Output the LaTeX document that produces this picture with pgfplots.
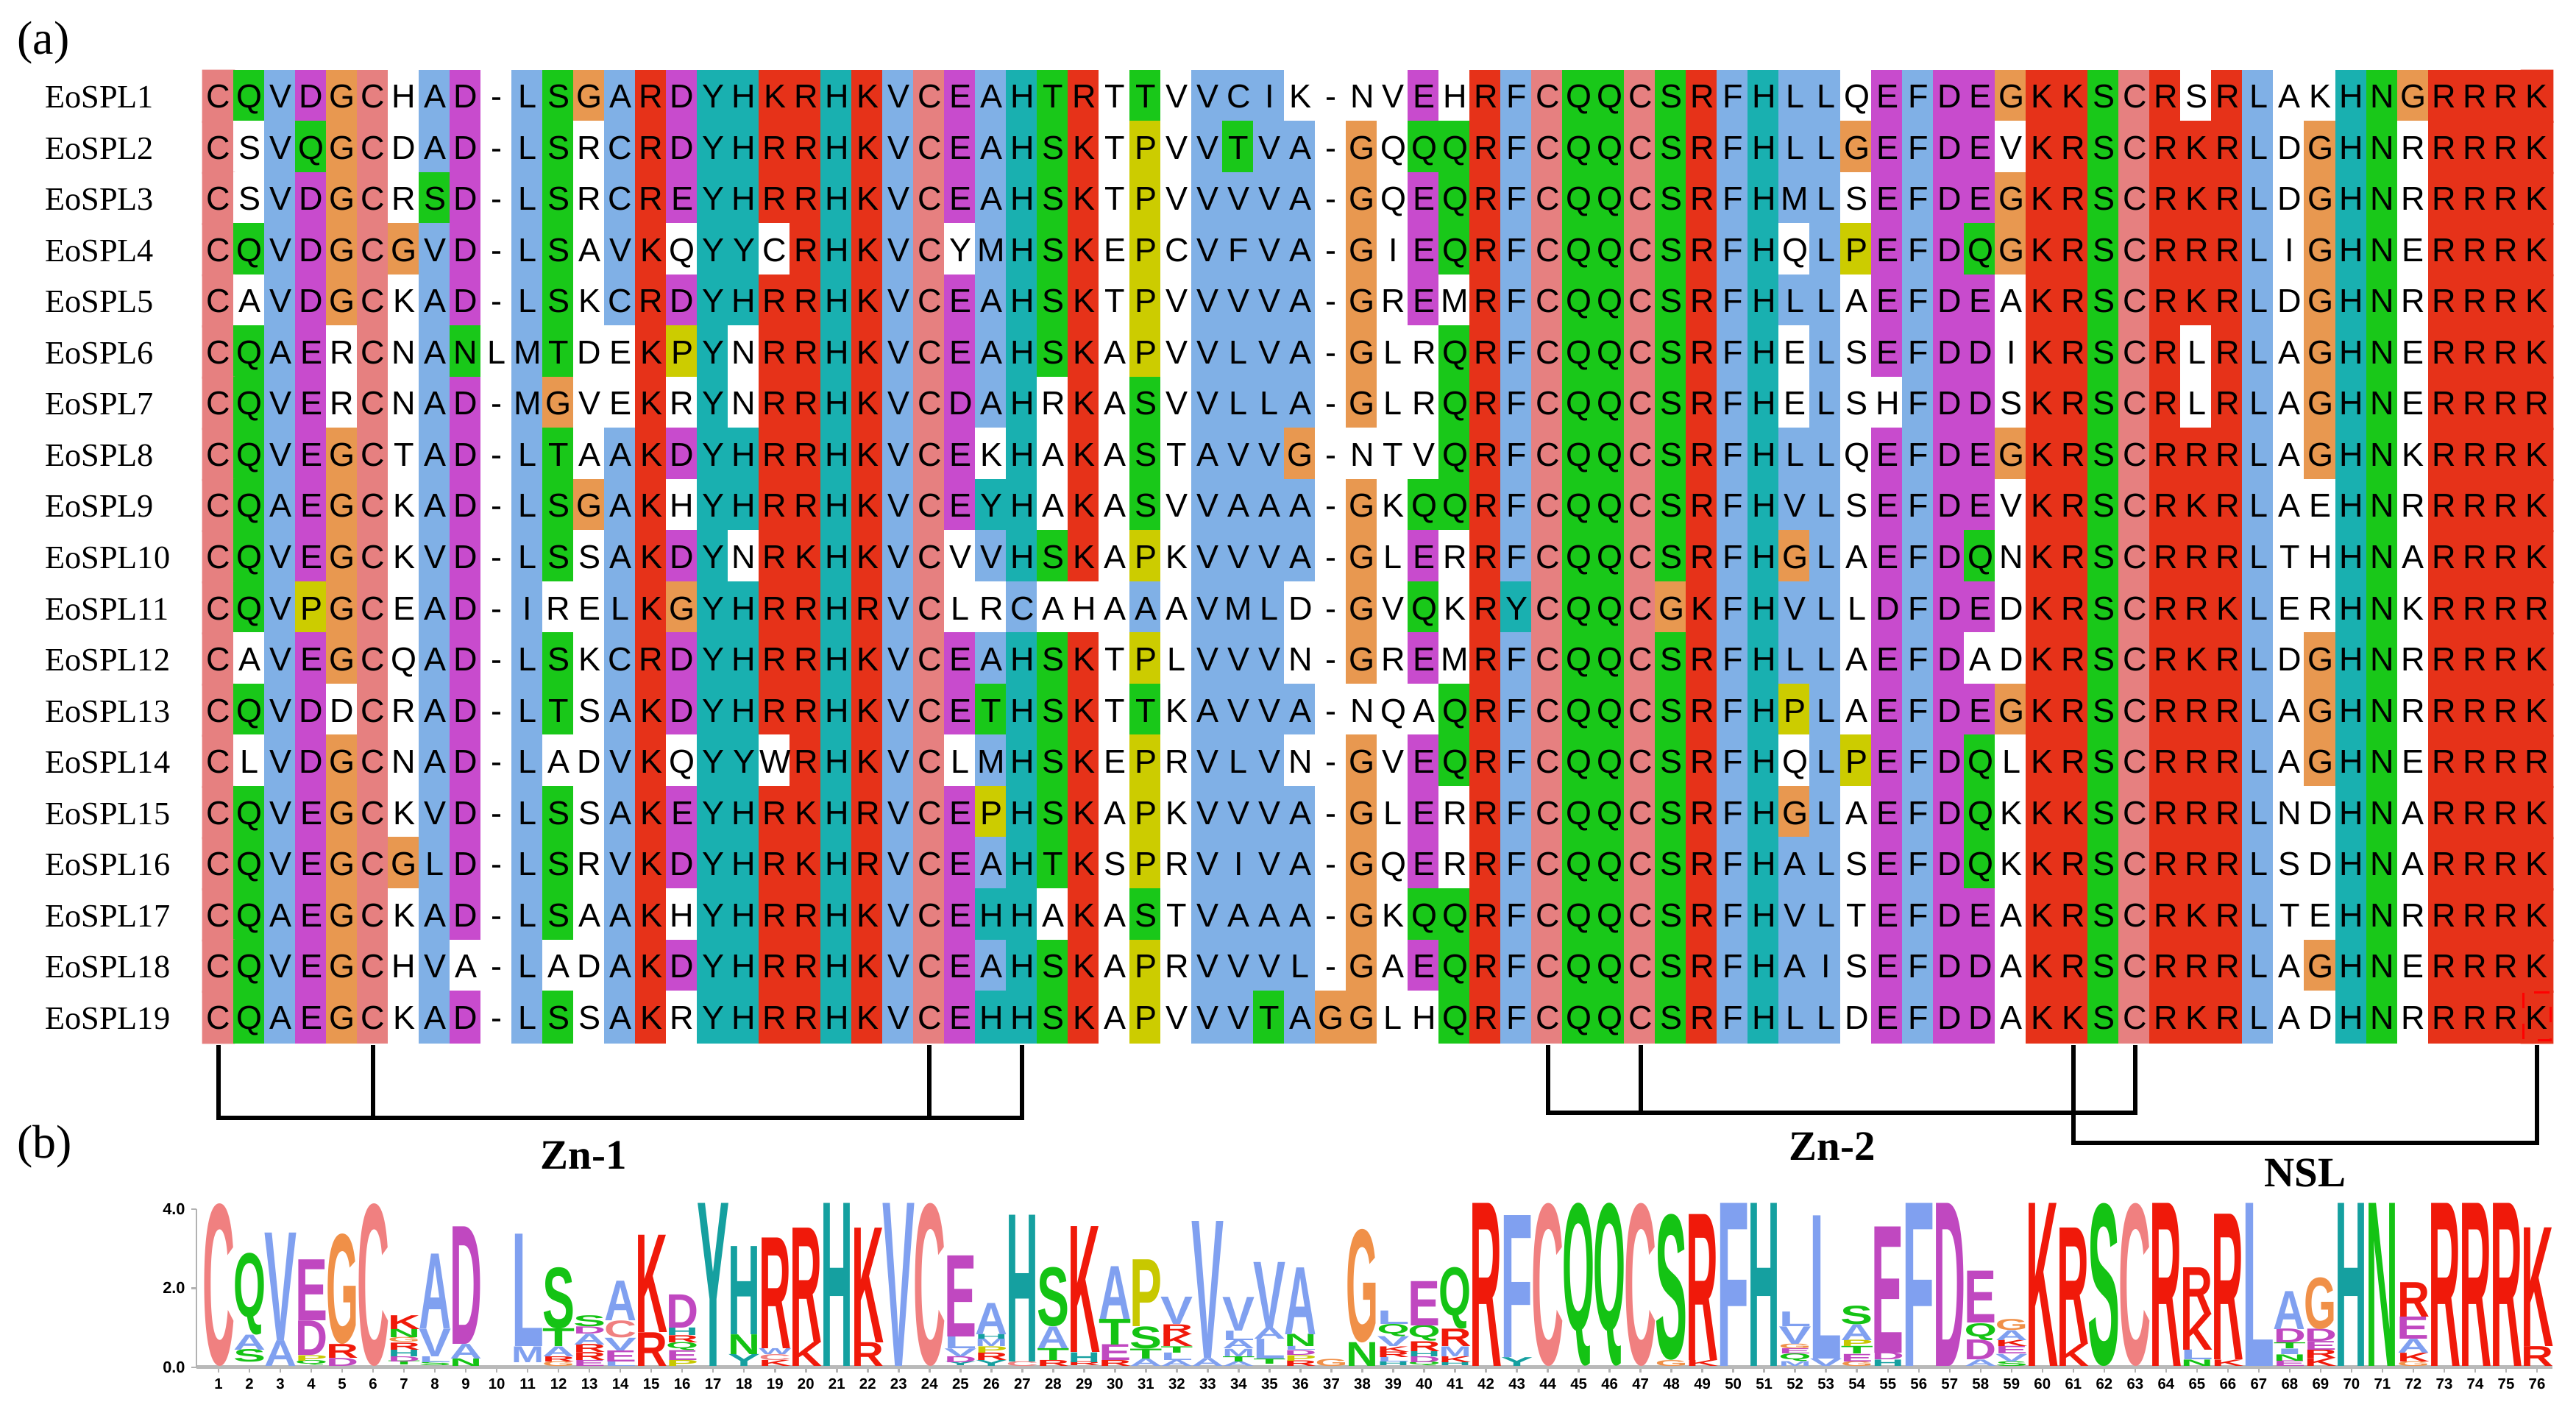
\documentclass[border=0pt]{standalone}
\usepackage{fontspec}
\setmainfont{Liberation Serif}
\newfontfamily\seqfont{Liberation Sans}
\usepackage{graphicx}
\usepackage{pgfplots}
\usepackage{pgfplotstable}
\pgfplotsset{compat=1.18}

% one unit = one pixel of the 3501x1920 reference
\newlength\pu \setlength\pu{0.05mm}
\newlength\yu \setlength\yu{53.75\pu}

% logo colours
\definecolor{lp}{RGB}{240,128,128}
\definecolor{lg}{RGB}{20,195,20}
\definecolor{lb}{RGB}{128,160,240}
\definecolor{lm}{RGB}{192,72,192}
\definecolor{lo}{RGB}{240,144,72}
\definecolor{lr}{RGB}{240,25,10}
\definecolor{lt}{RGB}{21,160,160}
\definecolor{ly}{RGB}{200,200,0}

% alignment cell colours: 0 white, 1 C, 2 NQST, 3 hydrophobic, 4 DE, 5 G, 6 KR, 7 HY, 8 P
\pgfplotsset{colormap={aln}{rgb255=(255,255,255) rgb255=(230,128,128) rgb255=(25,200,25)
  rgb255=(128,176,230) rgb255=(200,75,205) rgb255=(232,152,80) rgb255=(230,50,25)
  rgb255=(25,176,176) rgb255=(204,204,0)}}

\ExplSyntaxOn
\tl_new:N \AlnLetters
\tl_new:N \AlnColors
\int_new:N \l__aln_col_int
\NewDocumentCommand \AlnRow { m m m }
  {
    \int_zero:N \l__aln_col_int
    \tl_map_inline:nn {#2}
      {
        \int_incr:N \l__aln_col_int
        \tl_gput_right:Nx \AlnLetters { (\int_use:N \l__aln_col_int,#1) ~ [##1] ~ }
      }
    \int_zero:N \l__aln_col_int
    \tl_map_inline:nn {#3}
      {
        \int_incr:N \l__aln_col_int
        \tl_gput_right:Nx \AlnColors { (\int_use:N \l__aln_col_int,#1) ~ [##1] ~ }
      }
  }
\ExplSyntaxOff

\AlnRow{1}{CQVDGCHAD-LSGARDYHKRHKVCEAHTRTTVVCIK-NVEHRFCQQCSRFHLLQEFDEGKKSCRSRLAKHNGRRRK}
{1234510340 3253647766 7631437260 2033300004 0631221263 7330434456 6216063007 256666}
\AlnRow{2}{CSVQGCDAD-LSRCRDYHRRHKVCEAHSKTPVVTVA-GQQQRFCQQCSRFHLLGEFDEVKRSCRKRLDGHNRRRRK}
{1032510340 3203647766 7631437260 8032330502 2631221263 7335434406 6216663057 206666}
\AlnRow{3}{CSVDGCRSD-LSRCREYHRRHKVCEAHSKTPVVVVA-GQEQRFCQQCSRFHMLSEFDEGKRSCRKRLDGHNRRRRK}
{1034510240 3203647766 7631437260 8033330504 2631221263 7330434456 6216663057 206666}
\AlnRow{4}{CQVDGCGVD-LSAVKQYYCRHKVCYMHSKEPCVFVA-GIEQRFCQQCSRFHQLPEFDQGKRSCRRRLIGHNERRRK}
{1234515340 3203607706 7631037260 8033330504 2631221263 7038434256 6216663057 206666}
\AlnRow{5}{CAVDGCKAD-LSKCRDYHRRHKVCEAHSKTPVVVVA-GREMRFCQQCSRFHLLAEFDEAKRSCRKRLDGHNRRRRK}
{1034510340 3203647766 7631437260 8033330504 0631221263 7330434406 6216663057 206666}
\AlnRow{6}{CQAERCNANLMTDEKPYNRRHKVCEAHSKAPVVLVA-GLRQRFCQQCSRFHELSEFDDIKRSCRLRLAGHNERRRK}
{1234010320 3200687066 7631437260 8033330500 2631221263 7030434406 6216063057 206666}
\AlnRow{7}{CQVERCNAD-MGVEKRYNRRHKVCDAHRKASVVLLA-GLRQRFCQQCSRFHELSHFDDSKRSCRLRLAGHNERRRR}
{1234010340 3500607066 7631437060 2033330500 2631221263 7030034406 6216063057 206666}
\AlnRow{8}{CQVEGCTAD-LTAAKDYHRRHKVCEKHAKASTAVVG-NTVQRFCQQCSRFHLLQEFDEGKRSCRRRLAGHNKRRRK}
{1234510340 3203647766 7631407060 2033350000 2631221263 7330434456 6216663057 206666}
\AlnRow{9}{CQAEGCKAD-LSGAKHYHRRHKVCEYHAKASVVAAA-GKQQRFCQQCSRFHVLSEFDEVKRSCRKRLAEHNRRRRK}
{1234510340 3253607766 7631477060 2033330502 2631221263 7330434406 6216663007 206666}
\AlnRow{10}{CQVEGCKVD-LSSAKDYNRKHKVCVVHSKAPKVVVA-GLERRFCQQCSRFHGLAEFDQNKRSCRRRLTHHNARRRK}
{1234510340 3203647066 7631037260 8033330504 0631221263 7530434206 6216663007 206666}
\AlnRow{11}{CQVPGCEAD-IRELKGYHRRHRVCLRCAHAAAVMLD-GVQKRYCQQCGKFHVLLDFDEDKRSCRRKLERHNKRRRR}
{1238510340 3003657766 7631003000 3033300502 0671221563 7330434406 6216663007 206666}
\AlnRow{12}{CAVEGCQAD-LSKCRDYHRRHKVCEAHSKTPLVVVN-GREMRFCQQCSRFHLLAEFDADKRSCRKRLDGHNRRRRK}
{1034510340 3203647766 7631437260 8033300504 0631221263 7330434006 6216663057 206666}
\AlnRow{13}{CQVDDCRAD-LTSAKDYHRRHKVCETHSKTTKAVVA-NQAQRFCQQCSRFHPLAEFDEGKRSCRRRLAGHNRRRRK}
{1234010340 3203647766 7631427260 2033330000 2631221263 7830434456 6216663057 206666}
\AlnRow{14}{CLVDGCNAD-LADVKQYYWRHKVCLMHSKEPRVLVN-GVEQRFCQQCSRFHQLPEFDQLKRSCRRRLAGHNERRRR}
{1034510340 3003607706 7631037260 8033300504 2631221263 7038434206 6216663057 206666}
\AlnRow{15}{CQVEGCKVD-LSSAKEYHRKHRVCEPHSKAPKVVVA-GLERRFCQQCSRFHGLAEFDQKKKSCRRRLNDHNARRRK}
{1234510340 3203647766 7631487260 8033330504 0631221263 7530434206 6216663007 206666}
\AlnRow{16}{CQVEGCGLD-LSRVKDYHRKHRVCEAHTKSPRVIVA-GQERRFCQQCSRFHALSEFDQKKRSCRRRLSDHNARRRK}
{1234515340 3203647766 7631437260 8033330504 0631221263 7330434206 6216663007 206666}
\AlnRow{17}{CQAEGCKAD-LSAAKHYHRRHKVCEHHAKASTVAAA-GKQQRFCQQCSRFHVLTEFDEAKRSCRKRLTEHNRRRRK}
{1234510340 3203607766 7631477060 2033330502 2631221263 7330434406 6216663007 206666}
\AlnRow{18}{CQVEGCHVA-LADAKDYHRRHKVCEAHSKAPRVVVL-GAEQRFCQQCSRFHAISEFDDAKRSCRRRLAGHNERRRK}
{1234510300 3003647766 7631437260 8033330504 2631221263 7330434406 6216663057 206666}
\AlnRow{19}{CQAEGCKAD-LSSAKRYHRRHKVCEHHSKAPVVVTAGGLHQRFCQQCSRFHLLDEFDDAKKSCRKRLADHNRRRRK}
{1234510340 3203607766 7631477260 8033235500 2631221263 7330434406 6216663007 206666}

% sequence logo: column, bottom (bits), height:colour:letter
\pgfplotstableread{
x y m
1 0 4.11:lp:C
2 0.10 0.32:lg:S
2 0.42 0.38:lb:A
2 0.80 2.07:lg:Q
3 0 0.65:lb:A
3 0.65 2.72:lb:V
4 0.02 0.12:lg:Q
4 0.14 0.14:ly:P
4 0.28 0.87:lm:D
4 1.15 1.54:lm:E
5 0 0.20:lm:D
5 0.20 0.35:lr:R
5 0.55 2.79:lo:G
6 0 4.11:lp:C
7 0.02 0.10:lg:T
7 0.12 0.13:lm:D
7 0.25 0.17:lt:H
7 0.42 0.18:lr:R
7 0.60 0.12:lo:G
7 0.72 0.21:lg:N
7 0.93 0.35:lr:K
8 0 0.10:lg:S
8 0.10 0.15:lb:L
8 0.25 0.70:lb:V
8 0.95 1.89:lb:A
9 0 0.19:lg:N
9 0.19 0.37:lb:A
9 0.56 2.97:lm:D
11 0.10 0.40:lb:M
11 0.50 2.84:lb:L
12 0 0.12:lo:G
12 0.12 0.13:lr:R
12 0.25 0.25:lb:A
12 0.50 0.45:lg:T
12 0.95 1.55:lg:S
13 0 0.15:lm:E
13 0.15 0.20:lr:R
13 0.35 0.20:lr:R
13 0.55 0.27:lb:A
13 0.82 0.18:lm:D
13 1.00 0.28:lg:S
14 0 0.12:lb:L
14 0.12 0.28:lm:E
14 0.40 0.32:lb:V
14 0.72 0.43:lp:C
14 1.15 1.00:lb:A
15 0 0.85:lr:R
15 0.85 2.46:lr:K
16 0 0.15:ly:P
16 0.15 0.25:lm:E
16 0.40 0.20:lg:Q
16 0.60 0.18:lr:R
16 0.78 0.19:lt:H
16 0.97 0.84:lm:D
17 0 4.12:lt:Y
18 0 0.30:lt:Y
18 0.30 0.50:lg:N
18 0.80 2.23:lt:H
19 0 0.15:lr:K
19 0.15 0.15:lp:C
19 0.30 0.15:lb:W
19 0.45 2.80:lr:R
20 0 0.60:lr:K
20 0.60 2.90:lr:R
21 0 4.12:lt:H
22 0 0.60:lr:R
22 0.60 2.90:lr:K
23 0 4.12:lb:V
24 0 4.12:lp:C
25 0 0.10:lt:Y
25 0.10 0.15:lm:D
25 0.25 0.20:lb:V
25 0.45 0.30:lb:L
25 0.75 2.05:lm:E
26 0 0.15:lt:Y
26 0.15 0.19:lr:R
26 0.34 0.16:ly:P
26 0.50 0.19:lb:M
26 0.69 0.12:lt:H
26 0.81 0.79:lb:A
27 0 0.12:lp:C
27 0.12 3.71:lt:H
28 0 0.15:lr:R
28 0.15 0.30:lg:T
28 0.45 0.55:lb:A
28 1.00 1.50:lg:S
29 0 0.10:lr:R
29 0.10 0.25:lt:H
29 0.35 3.18:lr:K
30 0 0.15:lr:R
30 0.15 0.40:lm:E
30 0.55 0.65:lg:T
30 1.20 1.33:lb:A
31 0 0.19:lb:A
31 0.19 0.25:lg:T
31 0.44 0.56:lg:S
31 1.00 1.69:ly:P
32 0 0.15:lb:A
32 0.15 0.19:lb:L
32 0.34 0.16:lg:T
32 0.50 0.31:lr:K
32 0.81 0.25:lr:R
32 1.06 0.69:lb:V
33 0 0.20:lb:A
33 0.20 3.46:lb:V
34 0 0.12:lb:A
34 0.12 0.13:lg:T
34 0.25 0.19:lb:M
34 0.44 0.22:lb:A
34 0.66 0.24:lb:L
34 0.90 0.85:lb:V
35 0.06 0.13:lg:T
35 0.19 0.50:lb:L
35 0.69 0.28:lb:A
35 0.97 1.66:lb:V
36 0 0.14:lr:R
36 0.14 0.14:ly:P
36 0.28 0.12:lm:D
36 0.40 0.10:lb:L
36 0.50 0.31:lg:N
36 0.81 1.69:lb:A
37 0 0.18:lo:G
38 0 0.60:lg:N
38 0.60 2.87:lo:G
39 0 0.10:lt:H
39 0.10 0.12:lb:L
39 0.22 0.14:lr:R
39 0.36 0.14:lr:K
39 0.50 0.25:lb:V
39 0.75 0.31:lg:Q
39 1.06 0.34:lb:L
40 0 0.10:lg:Q
40 0.10 0.15:lm:D
40 0.25 0.13:lt:H
40 0.38 0.25:lr:R
40 0.63 0.40:lg:Q
40 1.03 1.12:lm:E
41 0 0.10:lt:H
41 0.10 0.15:lr:K
41 0.25 0.25:lb:M
41 0.50 0.44:lr:R
41 0.94 1.56:lg:Q
42 0 4.12:lr:R
43 0 0.22:lt:Y
43 0.22 3.59:lb:F
44 0 4.12:lp:C
45 0 4.12:lg:Q
46 0 4.12:lg:Q
47 0 4.12:lp:C
48 0 0.15:lo:G
48 0.15 3.69:lg:S
49 0 0.15:lr:K
49 0.15 3.69:lr:R
50 0 4.12:lb:F
51 0 4.12:lt:H
52 0 0.12:lb:M
52 0.12 0.19:lg:Q
52 0.31 0.13:lm:E
52 0.44 0.12:lo:G
52 0.56 0.44:lb:V
52 1.00 0.37:lb:L
53 0 0.19:lb:V
53 0.19 3.62:lb:L
54 0 0.12:lo:G
54 0.12 0.19:lm:E
54 0.31 0.19:lg:T
54 0.50 0.16:ly:P
54 0.66 0.40:lb:A
54 1.06 0.47:lg:S
55 0 0.16:lt:H
55 0.16 0.18:lm:D
55 0.34 3.19:lm:E
56 0 4.12:lb:F
57 0 4.12:lm:D
58 0 0.16:lb:A
58 0.16 0.50:lm:D
58 0.66 0.43:lg:Q
58 1.09 1.31:lm:E
59 0 0.12:lg:S
59 0.12 0.19:lb:V
59 0.31 0.19:lm:E
59 0.50 0.16:lr:K
59 0.66 0.25:lb:A
59 0.91 0.28:lo:G
60 0 4.12:lr:K
61 0 0.56:lr:K
61 0.56 2.94:lr:R
62 0 4.12:lg:S
63 0 4.12:lp:C
64 0 4.12:lr:R
65 0 0.16:lg:N
65 0.16 0.25:lb:L
65 0.41 0.90:lr:K
65 1.31 1.19:lr:R
66 0 0.16:lr:K
66 0.16 3.68:lr:R
67 0 4.12:lb:L
68 0 0.14:lm:E
68 0.14 0.16:lg:N
68 0.30 0.14:lb:I
68 0.44 0.15:lg:T
68 0.59 0.35:lm:D
68 0.94 0.96:lb:A
69 0 0.20:lr:K
69 0.20 0.21:lr:R
69 0.41 0.22:lm:E
69 0.63 0.31:lm:D
69 0.94 1.31:lo:G
70 0 4.12:lt:H
71 0 4.12:lg:N
72 0 0.12:lo:G
72 0.12 0.22:lr:K
72 0.34 0.35:lb:A
72 0.69 0.56:lm:E
72 1.25 0.87:lr:R
73 0 4.12:lr:R
74 0 4.12:lr:R
75 0 4.12:lr:R
76 0 0.50:lr:R
76 0.50 3.00:lr:K
}\logodata

% one stretched logo letter from "height:colour:letter"
\def\logoletter#1:#2:#3\relax{\resizebox*{44\pu}{#1\yu}{\seqfont\bfseries\color{#2}#3}}

\def\plotcells#1{\addplot[matrix plot*, mesh/cols=76, mesh/rows=19, point meta=explicit,
  colormap access=direct] coordinates {#1};}
\def\plotletters#1{\addplot[only marks, mark=text, text mark={},
  point meta=explicit symbolic, nodes near coords,
  every node near coord/.append style={font=\seqfont\fontsize{6.4}{7}\selectfont,
    anchor=base, yshift=-16\pu, inner sep=0pt, text=black}] coordinates {#1};}

\begin{document}
\begin{tikzpicture}
\path[use as bounding box] (0,0) rectangle (3501\pu,1920\pu);
\node[anchor=base west, inner sep=0pt, font=\fontsize{9.1}{10}\selectfont] at (22\pu,1846\pu) {(a)};
\node[anchor=base west, inner sep=0pt, font=\fontsize{9.1}{10}\selectfont] at (22\pu,346\pu) {(b)};

\begin{axis}[at={(276\pu,503\pu)}, anchor=south west, scale only axis,
  width=3193\pu, height=1321\pu,
  xmin=0.5, xmax=76.5, ymin=0.5, ymax=19.5, y dir=reverse,
  axis x line=none, axis y line=left, axis line style={draw=none},
  colormap name=aln, clip=false,
  ytick={1,...,19}, major tick length=0pt,
  yticklabels={EoSPL1,EoSPL2,EoSPL3,EoSPL4,EoSPL5,EoSPL6,EoSPL7,EoSPL8,EoSPL9,EoSPL10,
    EoSPL11,EoSPL12,EoSPL13,EoSPL14,EoSPL15,EoSPL16,EoSPL17,EoSPL18,EoSPL19},
  yticklabel style={anchor=base west, xshift=-216\pu, yshift=-16\pu, inner sep=0pt,
    font=\fontsize{6.3}{7}\selectfont}]
\expandafter\plotcells\expandafter{\AlnColors}
\expandafter\plotletters\expandafter{\AlnLetters}
% selection mark around the last residue of EoSPL19
\addplot[red, line width=3\pu, dashed] coordinates {(75.55,18.52) (75.55,19.45) (76.45,19.45) (76.45,18.52) (75.55,18.52)};
% domain brackets
\addplot[black, line width=6\pu] coordinates {(1,19.55) (1,20.96) (27,20.96) (27,19.55)};
\addplot[black, line width=6\pu] coordinates {(6,19.55) (6,20.96)};
\addplot[black, line width=6\pu] coordinates {(24,19.55) (24,20.96)};
\addplot[black, line width=6\pu] coordinates {(44,19.55) (44,20.87) (63,20.87) (63,19.55)};
\addplot[black, line width=6\pu] coordinates {(47,19.55) (47,20.87)};
\addplot[black, line width=6\pu] coordinates {(61,19.55) (61,21.45) (76,21.45) (76,19.55)};
\end{axis}

\node[font=\bfseries\fontsize{8.1}{9}\selectfont] at (793\pu,350\pu) {Zn-1};
\node[font=\bfseries\fontsize{8.1}{9}\selectfont] at (2490\pu,362\pu) {Zn-2};
\node[font=\bfseries\fontsize{8.1}{9}\selectfont] at (3133\pu,326\pu) {NSL};

\begin{axis}[at={(267\pu,62\pu)}, anchor=south west, scale only axis,
  width=3202\pu, height=215\pu,
  xmin=0.286, xmax=76.5, ymin=0, ymax=4,
  axis x line=bottom, axis y line=left, axis line style={-},
  x axis line style={gray!55, line width=5\pu},
  y axis line style={gray!60, line width=2.5\pu},
  xtick={1,...,76}, ytick={0,2,4}, yticklabels={0.0,2.0,4.0},
  tick align=outside, major tick length=7\pu,
  tick style={gray!60, line width=2.5\pu},
  /pgf/number format/assume math mode=true,
  xticklabel style={font=\seqfont\bfseries\fontsize{2.9}{3}\selectfont, inner sep=1pt},
  yticklabel style={font=\seqfont\bfseries\fontsize{3.1}{3.5}\selectfont, inner sep=1pt},
  clip=false]
\addplot[only marks, mark=text, text mark={},
  point meta=explicit symbolic,
  nodes near coords={\expandafter\logoletter\pgfplotspointmeta\relax},
  every node near coord/.append style={anchor=south, inner sep=0pt}]
  table[x=x, y=y, meta=m] {\logodata};
\end{axis}
\end{tikzpicture}
\end{document}
